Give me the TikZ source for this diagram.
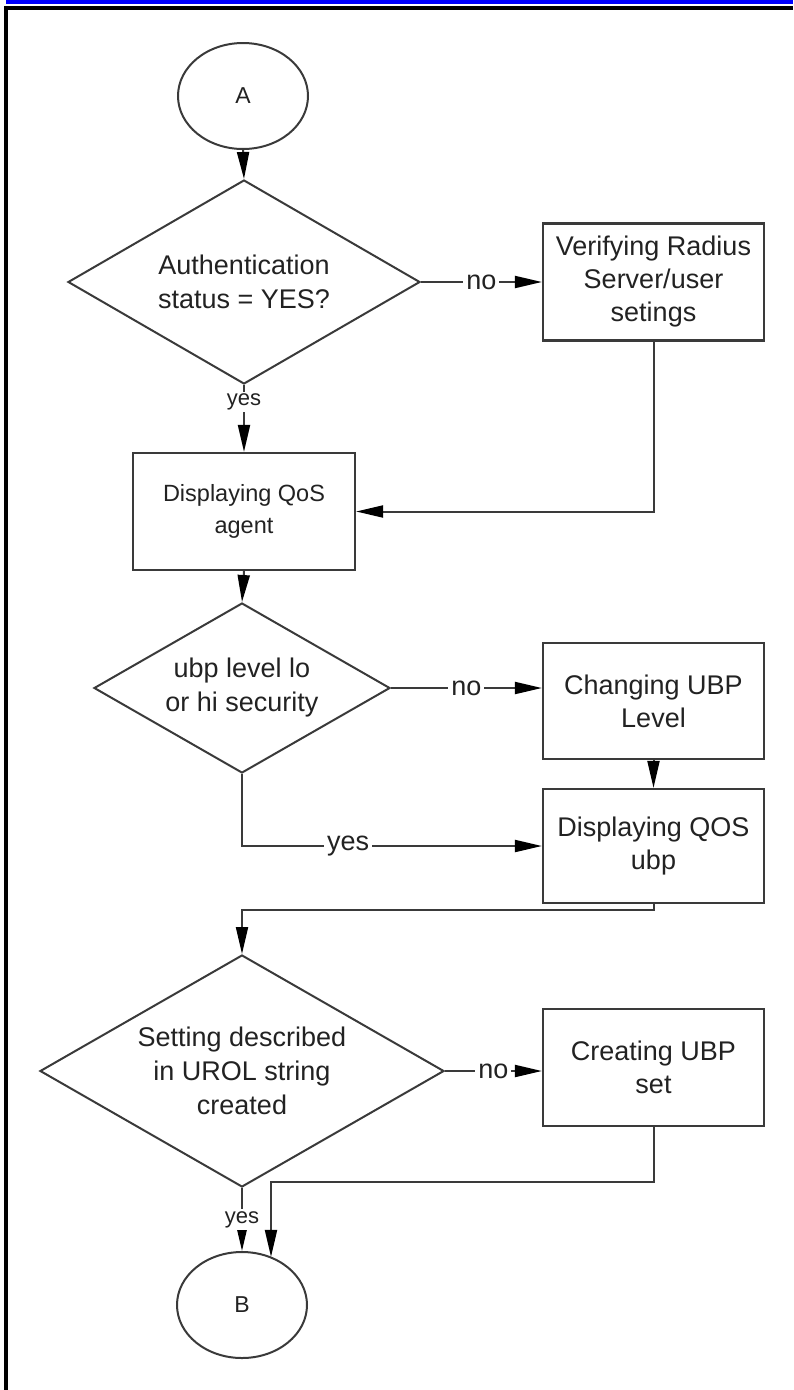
\documentclass[tikz,border=0pt]{standalone}
\usepackage{fontspec}
\setmainfont{Liberation Sans}
\usetikzlibrary{shapes.geometric,arrows.meta}
\definecolor{ln}{HTML}{3A3A3A}
\definecolor{tx}{HTML}{222222}
\definecolor{barblue}{HTML}{0000FF}
\begin{document}
\begin{tikzpicture}[x=1pt,y=-1pt,
  every node/.style={text=tx},
  conn/.style={draw=ln,line width=2pt,-{Triangle[length=27pt,width=12pt,color=black]}},
  box/.style={draw=ln,line width=2.2pt,rectangle,minimum width=221pt,minimum height=117pt,align=center,inner sep=0pt,font=\fontsize{27}{33}\selectfont},
  dec/.style={draw=ln,line width=2pt,diamond,inner sep=0pt,align=center,font=\fontsize{27}{34}\selectfont},
  term/.style={draw=ln,line width=2pt,ellipse,minimum width=130pt,minimum height=106pt,inner sep=0pt,font=\fontsize{23}{28}\selectfont},
  lbl/.style={fill=white,inner sep=3pt,font=\fontsize{27}{30}\selectfont},
  slbl/.style={fill=white,inner sep=2pt,font=\fontsize{22}{26}\selectfont}]
\useasboundingbox (0,0) rectangle (793,1390);
% page frame
\fill[barblue] (6,0) rectangle (793,4);
\fill[black] (4,6) rectangle (793,9.5);
\fill[black] (4,6) rectangle (7.5,1390);

% nodes
\node[term] (A) at (243,96) {A};
\node[dec,aspect=1.725,minimum width=352pt,minimum height=204pt] (d1) at (244,282) {Authentication\\status = YES?};
\node[box] (b1) at (653.5,282) {Verifying Radius\\Server/user\\setings};
\node[box,minimum width=222pt,font=\fontsize{23.5}{32}\selectfont] (b2) at (244,511.5) {Displaying QoS\\agent};
\node[dec,aspect=1.74,minimum width=296pt,minimum height=170pt] (d2) at (242,688) {ubp level lo\\or hi security};
\node[box,minimum height=116pt] (b3) at (653.5,701) {Changing UBP\\Level};
\node[box,minimum height=114pt] (b4) at (653.5,846) {Displaying QOS\\ubp};
\node[dec,aspect=1.741,minimum width=404pt,minimum height=232pt] (d3) at (242,1071) {Setting described\\in UROL string\\created};
\node[box] (b5) at (653.5,1067.5) {Creating UBP\\set};
\node[term] (B) at (242,1305) {B};
\coordinate (j1) at (242,910);
\coordinate (j2) at (271,1182);

% connectors
\draw[conn] (A.south) -- (d1.north);
\draw[conn] (d1.east) -- node[lbl]{no} (d1.east -| b1.west);
\draw[conn] (d1.south) -- node[slbl,pos=0.25]{yes} (b2.north);
\draw[conn] (b1.south) |- (b2.east);
\draw[conn] (b2.south) -- (d2.north);
\draw[conn] (d2.east) -- node[lbl]{no} (d2.east -| b3.west);
\draw[conn] (b3.south) -- (b4.north);
\draw[conn] (d2.south) |- node[lbl,pos=0.677]{yes} (b4.west);
\draw[conn] (b4.south) |- (j1) -- (d3.north);
\draw[conn] (d3.east) -- node[lbl]{no} (d3.east -| b5.west);
\draw[conn] (b5.south) |- (j2) -- (j2 |- B.58.5);
\draw[conn] (d3.south) -- node[slbl]{yes} (B.north);
\end{tikzpicture}
\end{document}
